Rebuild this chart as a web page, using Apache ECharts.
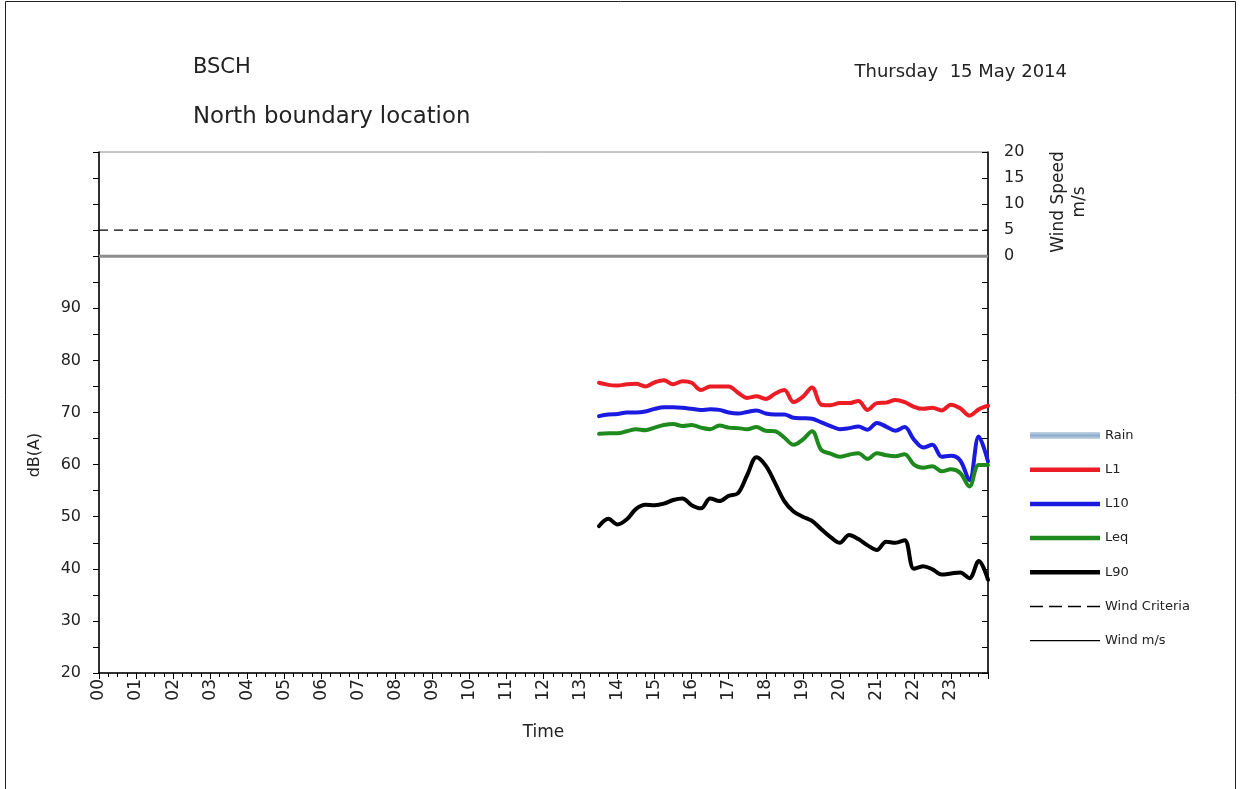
<!DOCTYPE html>
<html><head><meta charset="utf-8">
<script src="https://cdn.jsdelivr.net/npm/echarts@6/dist/echarts.min.js"></script>
<style>html,body{margin:0;padding:0;background:#fff}#c{width:1241px;height:789px}</style>
</head><body><div id="c"></div>
<script>
// time of each sample (hours), 15-min steps from 13:30 to 24:00
const times = [13.5,13.75,14,14.25,14.5,14.75,15,15.25,15.5,15.75,16,16.25,16.5,16.75,17,17.25,17.5,17.75,18,18.25,18.5,18.75,19,19.25,19.5,19.75,20,20.25,20.5,20.75,21,21.25,21.5,21.75,22,22.25,22.5,22.75,23,23.25,23.5,23.75,24];
const L1  = [75.7,75.3,75.2,75.4,75.5,75.0,75.8,76.2,75.4,76.0,75.7,74.3,75.0,75.0,75.0,73.8,72.8,73.1,72.6,73.6,74.3,72.0,73.0,74.8,71.5,71.4,71.8,71.8,72.2,70.5,71.8,71.9,72.4,72.0,71.1,70.7,70.9,70.4,71.5,70.8,69.4,70.6,71.3];
const L10 = [69.3,69.6,69.7,70.0,70.0,70.2,70.7,71.0,71.0,70.9,70.7,70.5,70.6,70.5,70.0,69.8,70.1,70.4,69.8,69.6,69.6,69.0,68.9,68.8,68.1,67.4,66.8,67.0,67.3,66.7,68.0,67.3,66.5,67.2,64.8,63.3,63.8,61.5,61.7,60.8,57.0,65.4,60.6];
const Leq = [65.9,66.0,66.0,66.4,66.8,66.6,67.1,67.6,67.8,67.4,67.6,67.1,66.8,67.5,67.1,67.0,66.8,67.2,66.5,66.4,65.2,63.8,64.8,66.4,62.8,62.1,61.5,61.9,62.2,61.1,62.2,61.8,61.6,62.0,60.0,59.4,59.7,58.7,59.1,58.4,55.8,59.9,59.9];
const L90 = [48.2,49.6,48.5,49.5,51.5,52.3,52.2,52.5,53.2,53.5,52.2,51.6,53.5,53.0,54.0,54.5,58.0,61.4,59.8,56.5,53.0,51.0,50.0,49.2,47.6,46.1,45.0,46.5,45.7,44.5,43.6,45.2,45.0,45.5,40.0,40.5,39.9,38.9,39.1,39.3,38.2,41.5,37.9];
const windTimes = [0,24];
const windSpeed = [0,0];
const windCriteria = [5,5];
const rain = [];
const hourLabels = ['00','01','02','03','04','05','06','07','08','09','10','11','12','13','14','15','16','17','18','19','20','21','22','23'];

const pair = (xs, ys) => xs.map((x,i)=>[x, ys[i]]);
const FONT = '"DejaVu Sans", sans-serif';
const TXT = '#222';
const THICK = 'path://M0,0H70V4.5H0Z';
const THIN = 'path://M0,0H70V1.3H0Z';
const DASHED = 'path://M0,0H13V1.3H0Z M19,0H32V1.3H19Z M38,0H51V1.3H38Z M57,0H70V1.3H57Z';
const chart = echarts.init(document.getElementById('c'));
const lineSeries = (name, data, color) => ({
  name, type:'line', yAxisIndex:0, data: pair(times, data), smooth:0.35,
  showSymbol:false, symbol:'none', lineStyle:{color, width:4, cap:'round', join:'round'}, itemStyle:{color}, z:5
});
chart.setOption({
  animation:false,
  textStyle:{fontFamily:FONT},
  grid:{left:99, right:253, top:152, bottom:116, show:true, borderColor:'#8c8c8c', borderWidth:1},
  legend:{
    orient:'vertical', left:1025, top:424, itemWidth:70, itemHeight:14, itemGap:21.2,
    textStyle:{fontSize:13, color:TXT, fontFamily:FONT},
    data:[
      {name:'Rain', icon:'path://M0,0H70V7H0Z'},
      {name:'L1', icon:THICK},
      {name:'L10', icon:THICK},
      {name:'Leq', icon:THICK},
      {name:'L90', icon:THICK},
      {name:'Wind Criteria', icon:DASHED, itemStyle:{color:'#000'}},
      {name:'Wind m/s', icon:THIN, itemStyle:{color:'#000'}}
    ]
  },
  xAxis:{
    type:'value', min:0, max:24, interval:1,
    name:'Time', nameLocation:'middle', nameGap:51, nameTextStyle:{fontSize:17, color:TXT, fontFamily:FONT},
    axisLine:{onZero:false, lineStyle:{color:'#000', width:1.5}},
    axisTick:{show:true, length:6, lineStyle:{color:'#000'}},
    minorTick:{show:true, splitNumber:4, length:4, lineStyle:{color:'#000'}},
    splitLine:{show:false},
    axisLabel:{rotate:90, fontSize:17, color:TXT, margin:6, fontFamily:FONT, formatter:v => v<24 ? hourLabels[v] : ''}
  },
  yAxis:[
    {type:'value', min:20, max:120, interval:5, position:'left',
     axisLine:{show:true, onZero:false, lineStyle:{color:'#000', width:1.5}},
     axisTick:{show:true, length:6, lineStyle:{color:'#000'}},
     splitLine:{show:false},
     axisLabel:{fontSize:16, color:TXT, margin:18, fontFamily:FONT, formatter:v => (v%10===0 && v<=90) ? String(v) : ''}},
    {type:'value', min:-80, max:20, interval:5, position:'right',
     axisLine:{show:true, onZero:false, lineStyle:{color:'#000', width:1.5}},
     axisTick:{show:true, inside:true, length:6, lineStyle:{color:'#000'}},
     splitLine:{show:false},
     axisLabel:{fontSize:16, color:TXT, margin:16, fontFamily:FONT, formatter:v => v>=0 ? String(v) : ''}}
  ],
  graphic:[
    {type:'rect', shape:{x:5.5, y:1.5, width:1230, height:800}, style:{fill:'none', stroke:'#222', lineWidth:1}, silent:true},
    {type:'text', x:193, y:68, style:{text:'BSCH', fontSize:21, fill:TXT, fontFamily:FONT, align:'left', verticalAlign:'middle'}},
    {type:'text', x:193, y:117, style:{text:'North boundary location', fontSize:22.8, fill:TXT, fontFamily:FONT, align:'left', verticalAlign:'middle'}},
    {type:'text', x:1067, y:72, style:{text:'Thursday  15 May 2014', fontSize:18, fill:TXT, fontFamily:FONT, align:'right', verticalAlign:'middle'}},
    {type:'text', x:35, y:455, rotation:Math.PI/2, style:{text:'dB(A)', fontSize:16, fill:TXT, fontFamily:FONT, align:'center', verticalAlign:'middle'}},
    {type:'text', x:1069, y:202, rotation:Math.PI/2, style:{text:'Wind Speed\nm/s', fontSize:17, lineHeight:21, fill:TXT, fontFamily:FONT, align:'center', verticalAlign:'middle'}}
  ],
  series:[
    {name:'Rain', type:'bar', yAxisIndex:1, data:rain,
     itemStyle:{color:new echarts.graphic.LinearGradient(0,0,0,1,[{offset:0,color:'#c6d6e8'},{offset:0.5,color:'#8eaccc'},{offset:1,color:'#c6d6e8'}])}},
    lineSeries('L1', L1, '#ec1c24'),
    lineSeries('L10', L10, '#1a1ae0'),
    lineSeries('Leq', Leq, '#1e8a1e'),
    lineSeries('L90', L90, '#000000'),
    {name:'Wind Criteria', type:'line', yAxisIndex:1, data:pair(windTimes, windCriteria), showSymbol:false, symbol:'none',
     lineStyle:{color:'#000', width:1.2, type:[9,6]}, itemStyle:{color:'#000'}},
    {name:'Wind m/s', type:'line', yAxisIndex:1, data:pair(windTimes, windSpeed), showSymbol:false, symbol:'none',
     lineStyle:{color:'#8c8c8c', width:3}, itemStyle:{color:'#000'}}
  ]
});
</script></body></html>
